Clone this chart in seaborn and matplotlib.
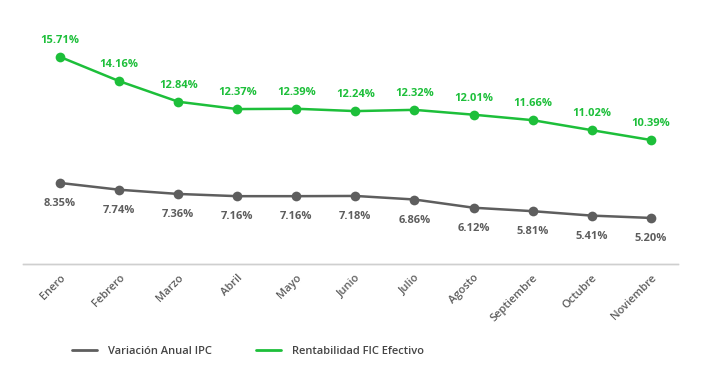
import matplotlib
matplotlib.use("Agg")
import matplotlib.pyplot as plt
from matplotlib.lines import Line2D
import seaborn as sn
import pandas as pd

meses = ["Enero", "Febrero", "Marzo", "Abril", "Mayo", "Junio", "Julio",
         "Agosto", "Septiembre", "Octubre", "Noviembre"]
ipc = [8.35, 7.74, 7.36, 7.16, 7.16, 7.18, 6.86, 6.12, 5.81, 5.41, 5.20]
fic = [15.71, 14.16, 12.84, 12.37, 12.39, 12.24, 12.32, 12.01, 11.66, 11.02, 10.39]

GREEN = "#1dbf3a"
GRAY = "#5e5e5e"

sn.set_style("white")
plt.rcParams['font.family'] = ['Open Sans', 'DejaVu Sans']

df = pd.DataFrame({"mes": meses, "x": range(len(meses)), "ipc": ipc, "fic": fic})

fig = plt.figure(figsize=(7.09, 3.68), dpi=100)
ax = fig.add_axes([0.0324, 0.2826, 0.9236, 0.6631])
ax2 = ax.twinx()

sn.lineplot(data=df, x="x", y="fic", ax=ax, color=GREEN, marker="o",
            markersize=7, markeredgewidth=0, linewidth=1.8)
sn.lineplot(data=df, x="x", y="ipc", ax=ax2, color=GRAY, marker="o",
            markersize=7, markeredgewidth=0, linewidth=1.8)

ax.set_ylim(2.44, 18.08)
ax2.set_ylim(1.05, 23.03)
ax.set_xlim(-0.63, 10.46)

for i, v in enumerate(fic):
    ax.annotate(f"{v:.2f}%", (i, v), xytext=(0, 8), textcoords="offset points",
                ha="center", va="bottom", color=GREEN, fontsize=8, fontweight="bold")
for i, v in enumerate(ipc):
    ax2.annotate(f"{v:.2f}%", (i, v), xytext=(0, -11), textcoords="offset points",
                 ha="center", va="top", color=GRAY, fontsize=8, fontweight="bold")

for a in (ax, ax2):
    for s in ["top", "right", "left"]:
        a.spines[s].set_visible(False)
    a.spines["bottom"].set_color("#cfcfcf")
    a.spines["bottom"].set_linewidth(1)
    a.set_yticks([])
    a.set_ylabel("")
    a.set_xlabel("")

ax.set_xticks(range(len(meses)))
ax.set_xticklabels(meses, rotation=45, ha="right", rotation_mode="anchor",
                   color=GRAY, fontsize=8, fontweight="semibold")
ax.tick_params(axis="x", length=0, pad=6)

handles = [Line2D([0], [0], color=GRAY, lw=2),
           Line2D([0], [0], color=GREEN, lw=2)]
fig.legend(handles, ["Variación Anual IPC", "Rentabilidad FIC Efectivo"],
           loc="center", bbox_to_anchor=(0.35, 0.045), ncol=2, frameon=False,
           prop={"size": 8, "weight": "semibold"}, handlelength=2.2,
           handletextpad=1.0, columnspacing=4, labelcolor="#444444")

fig.savefig("out.png", dpi=100)
